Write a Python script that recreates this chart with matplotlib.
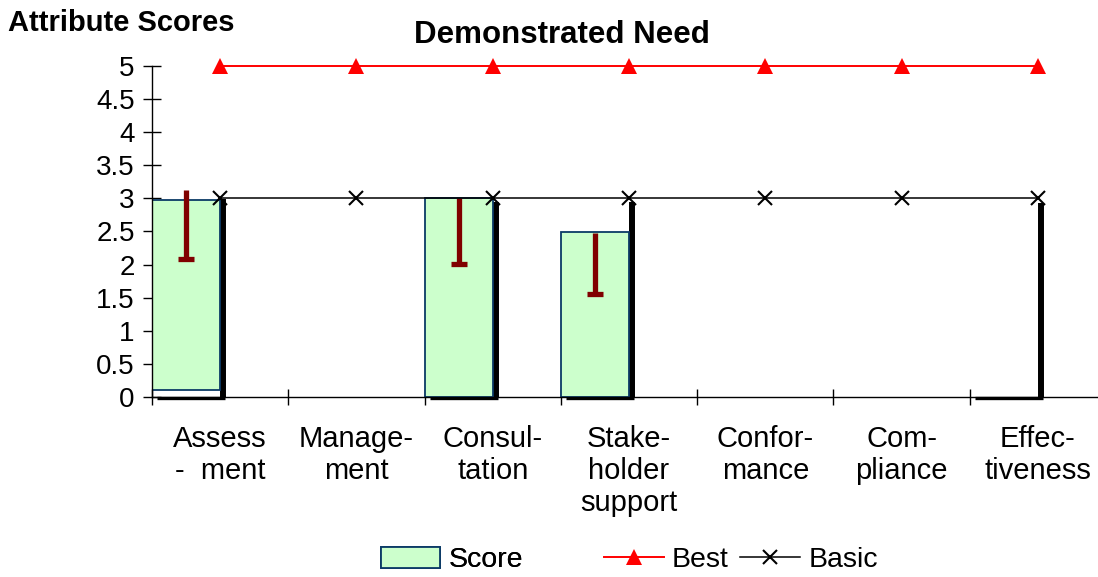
import numpy as np
import matplotlib
matplotlib.use("Agg")
import matplotlib.pyplot as plt
from matplotlib import transforms
from matplotlib.patches import Patch
from matplotlib.lines import Line2D

plt.rcParams['font.family'] = ['Liberation Sans', 'DejaVu Sans']

categories = ["Assess\n-  ment", "Manage-\nment", "Consul-\ntation",
              "Stake-\nholder\nsupport", "Confor-\nmance", "Com-\npliance",
              "Effec-\ntiveness"]
score_top = [2.97, np.nan, 3.0, 2.49, np.nan, np.nan, np.nan]
score_bottom = [0.1, 0.0, 0.0, 0.0, 0.0, 0.0, 0.0]
shadow_top = [2.99, np.nan, 2.95, 2.95, np.nan, np.nan, 2.93]
err_high = [3.13, np.nan, 3.0, 2.48, np.nan, np.nan, np.nan]
err_low = [2.09, np.nan, 2.01, 1.55, np.nan, np.nan, np.nan]
best = [5, 5, 5, 5, 5, 5, 5]
basic = [3, 3, 3, 3, 3, 3, 3]
yticks = [0, 0.5, 1, 1.5, 2, 2.5, 3, 3.5, 4, 4.5, 5]
ytick_labels = ["0", "0.5", "1", "1.5", "2", "2.5", "3", "3.5", "4", "4.5", "5"]

W, H = 1098, 577
fig = plt.figure(figsize=(W / 100, H / 100), dpi=100)
ax = fig.add_axes([152 / W, (H - 397) / H, 954 / W, 331 / H])

x = np.arange(len(categories))
fs_tick = 20
fs_cat = 21
fs_leg = 20.5

# shadows
off_v = transforms.offset_copy(ax.transData, fig=fig, x=3, y=0, units='dots')
off_h = transforms.offset_copy(ax.transData, fig=fig, x=5, y=-0.5, units='dots')
for i, h in enumerate(shadow_top):
    if np.isnan(h):
        continue
    ax.plot([i, i], [0, h], color='black', lw=4.3, solid_capstyle='butt',
            transform=off_v, zorder=1.5, clip_on=False)
    ax.plot([i - 0.5, i], [0, 0], color='black', lw=2.4, solid_capstyle='butt',
            transform=off_h, zorder=1.5, clip_on=False)

top = np.array(score_top)
bot = np.array(score_bottom)
ax.bar(x - 0.25, top - bot, bottom=bot, width=0.5, color='#CCFFCC',
       edgecolor='#0B3A66', linewidth=1.3, zorder=2)

ax.vlines(x - 0.25, err_low, err_high, color='#800000', lw=3.8, zorder=3)
ax.plot(x - 0.25, err_low, linestyle='none', marker='_', ms=11, mew=3.8,
        color='#800000', zorder=3)

ax.plot(x, best, color='#FF0000', lw=1.4, marker='^', ms=11,
        markeredgewidth=0, clip_on=False, zorder=4)
ax.plot(x, basic, color='black', lw=1.1, marker='x', ms=10.5, mew=1.5,
        clip_on=False, zorder=4)

ax.set_xlim(-0.5, 6.5)
ax.set_ylim(0, 5)
for s in ['top', 'right']:
    ax.spines[s].set_visible(False)
ax.spines['left'].set_linewidth(1.0)
ax.spines['bottom'].set_linewidth(1.0)

ax.set_yticks(yticks)
ax.set_yticklabels(ytick_labels, fontsize=fs_tick)
ax.tick_params(axis='y', direction='inout', length=13, width=1, pad=6)

ax.set_xticks(np.arange(-0.5, 7.0, 1.0))
ax.set_xticklabels([])
ax.tick_params(axis='x', which='major', direction='inout', length=11, width=1)
ax.set_xticks(x, minor=True)
ax.set_xticklabels(categories, minor=True, fontsize=fs_cat, linespacing=1.17)
ax.tick_params(axis='x', which='minor', length=0, pad=20.5)

fig.text(562 / W, 1 - 35 / H, "Demonstrated Need", ha='center', va='center',
         fontsize=22.5, fontweight='bold')
fig.text(8 / W, 1 - 23 / H, "Attribute Scores", ha='left', va='center',
         fontsize=21, fontweight='bold')

h1 = Patch(facecolor='#CCFFCC', edgecolor='#0B3A66', linewidth=1.3)
leg1 = fig.legend([h1], ["Score"], loc='center', bbox_to_anchor=(452 / W, 1 - 560 / H),
                  frameon=False, fontsize=fs_leg, handlelength=2.1, handleheight=0.75,
                  handletextpad=0.3)
h2 = Line2D([], [], color='#FF0000', lw=1.4, marker='^', ms=11, markeredgewidth=0)
h3 = Line2D([], [], color='black', lw=1.1, marker='x', ms=10.5, mew=1.5)
leg2 = fig.legend([h2, h3], ["Best", "Basic"], loc='center', ncol=2,
                  bbox_to_anchor=(741 / W, 1 - 560 / H), frameon=False, fontsize=fs_leg,
                  handlelength=2.1, handletextpad=0.3, columnspacing=0.4)
fig.add_artist(leg1)

fig.savefig("out.png", dpi=100)
